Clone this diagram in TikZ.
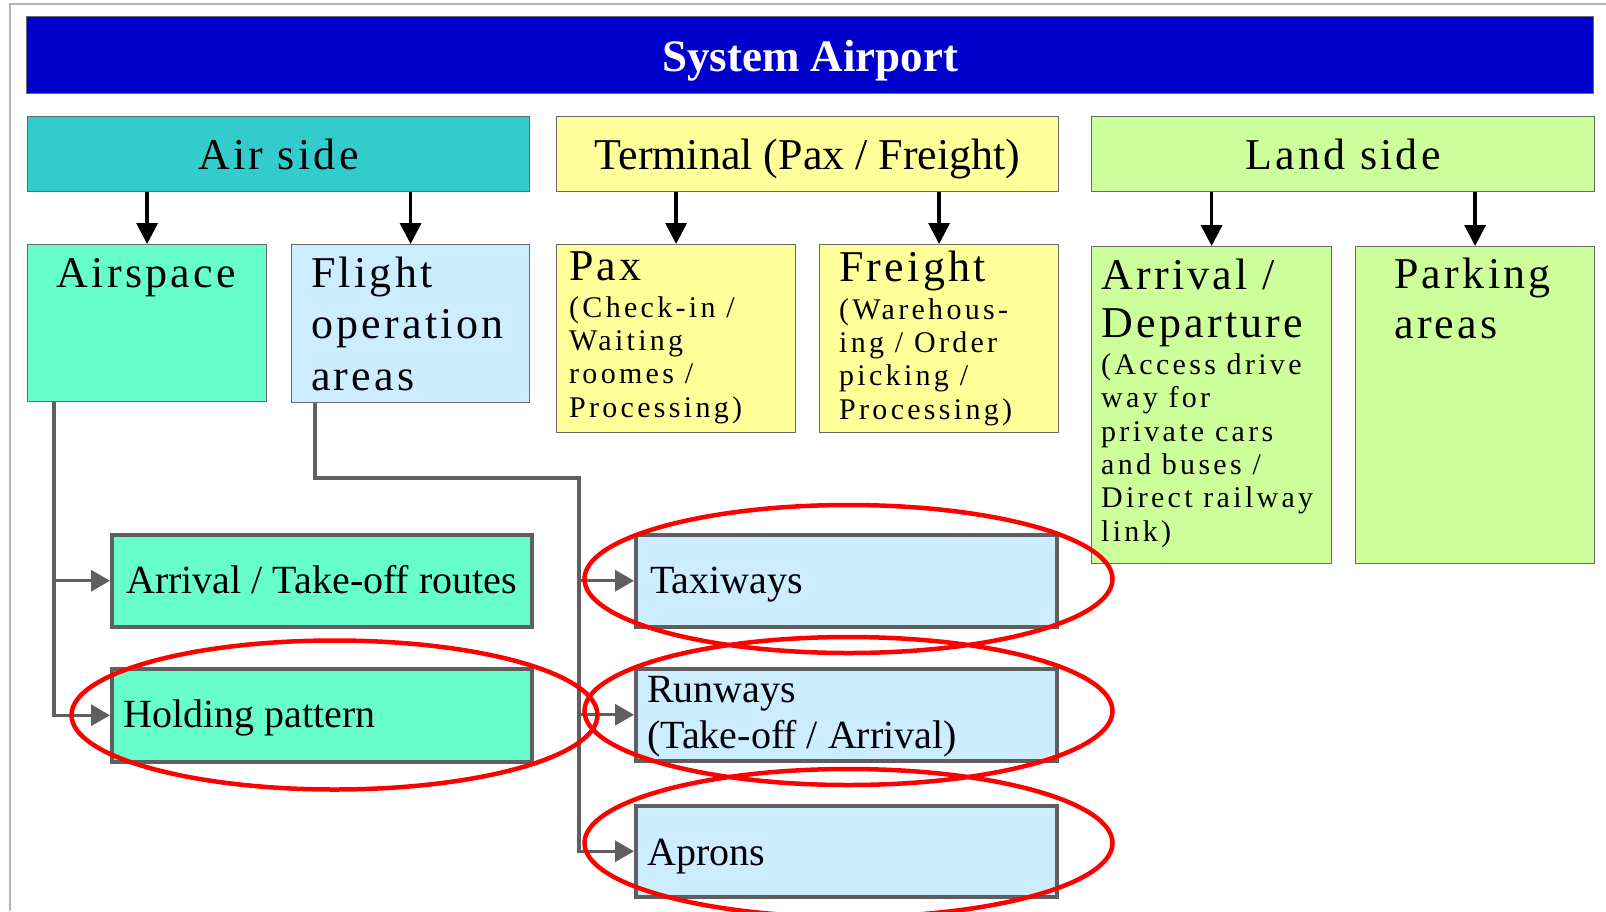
\documentclass[tikz,border=0pt]{standalone}
\usepackage{fontspec}
\setmainfont{Liberation Serif}
\newfontfamily\widespaced[LetterSpace=7.5]{Liberation Serif}
\newfontfamily\smallspaced[LetterSpace=11]{Liberation Serif}
\usetikzlibrary{arrows.meta}

\definecolor{titleblue}{HTML}{0000CC}
\definecolor{airteal}{HTML}{33CCCC}
\definecolor{termyellow}{HTML}{FFFF99}
\definecolor{landgreen}{HTML}{CCFF99}
\definecolor{airmint}{HTML}{66FFCC}
\definecolor{opsblue}{HTML}{CCECFF}
\definecolor{edgegray}{HTML}{6A6A6A}
\definecolor{thickgray}{HTML}{5F5F5F}
\definecolor{framegray}{HTML}{B4B4B4}
\definecolor{ringred}{HTML}{FF0000}

\tikzset{
  box/.style={anchor=north west, inner sep=0pt, draw=edgegray, line width=1.2pt},
  areabox/.style={anchor=north west, inner sep=0pt, draw=thickgray, line width=3.5pt},
  tierhead/.style={text height=30pt, text depth=0pt},
  bigtext/.style={inner sep=0pt, align=left, font=\widespaced\fontsize{44}{51.5}\selectfont},
  smalltext/.style={inner sep=0pt, align=left, font=\smallspaced\fontsize{30}{33.3}\selectfont},
  areatext/.style={inner sep=0pt, anchor=base west, align=left, font=\fontsize{40}{46}\selectfont},
  godown/.style={draw=black, line width=3.5pt, -{Triangle[length=21pt, width=21pt]}},
  feed/.style={draw=thickgray, line width=3.3pt, -{Triangle[length=19pt, width=21pt]}},
  redring/.style={draw=ringred, line width=4.5pt}
}

\begin{document}
\begin{tikzpicture}[x=1pt,y=-1pt]
\useasboundingbox (0,0) rectangle (1606,911);

% Drawing page frame
\draw [framegray, line width=1.2pt] (10,911) -- (10,4) -- (1606,4);

% Drawing title bar
\node [box, fill=titleblue, minimum width=1567pt, minimum height=77pt,
       text height=33pt, text depth=0pt, text=white,
       font=\fontsize{45}{50}\selectfont\bfseries] (title) at (26,16) {System Airport};

% Drawing the three sides
\node [box, tierhead, fill=airteal, minimum width=502pt, minimum height=75pt,
       font=\widespaced\fontsize{44}{51}\selectfont] (airside) at (27,116) {Air side};
\node [box, tierhead, fill=termyellow, minimum width=502pt, minimum height=75pt,
       font=\fontsize{44}{51}\selectfont] (terminal) at (556,116) {Terminal (Pax / Freight)};
\node [box, tierhead, fill=landgreen, minimum width=503pt, minimum height=75pt,
       font=\widespaced\fontsize{44}{51}\selectfont] (landside) at (1091,116) {Land side};

% Drawing boxes of the second row
\node [box, fill=airmint, minimum width=239pt, minimum height=157pt] (airspace) at (27,244) {};
\node [box, fill=opsblue, minimum width=238pt, minimum height=158pt] (flightops) at (291,244) {};
\node [box, fill=termyellow, minimum width=239pt, minimum height=188pt] (pax) at (556,244) {};
\node [box, fill=termyellow, minimum width=239pt, minimum height=188pt] (freight) at (819,244) {};
\node [box, fill=landgreen, minimum width=240pt, minimum height=317pt] (arrdep) at (1091,246) {};
\node [box, fill=landgreen, minimum width=239pt, minimum height=317pt] (parking) at (1355,246) {};

% Texts of the second row (placed at the baseline of their last line)
\node [bigtext, anchor=base] at (146.5,287) {Airspace};
\node [bigtext, anchor=base west] at (311,390) {Flight\\operation\\areas};
\node [bigtext, anchor=base west] at (569,280) {Pax};
\node [smalltext, anchor=base west] at (569,417) {(Check-in /\\Waiting\\roomes /\\Processing)};
\node [bigtext, anchor=base west] at (839,281) {Freight};
\node [smalltext, anchor=base west] at (839,419) {(Warehous-\\ing / Order\\picking /\\Processing)};
\node [bigtext, anchor=base west, font=\widespaced\fontsize{44}{48}\selectfont] at (1101,337) {Arrival /\\Departure};
\node [smalltext, anchor=base west] at (1101,541) {(Access drive\\way for\\private cars\\and buses /\\Direct railway\\link)};
\node [bigtext, anchor=base west, font=\widespaced\fontsize{44}{50}\selectfont] at (1394,338) {Parking\\areas};

% Drawing arrows from the sides
\draw [godown] (airspace.north |- airside.south) -- (airspace.north);
\draw [godown] (flightops.north |- airside.south) -- (flightops.north);
\draw [godown] (pax.north |- terminal.south) -- (pax.north);
\draw [godown] (freight.north |- terminal.south) -- (freight.north);
\draw [godown] (arrdep.north |- landside.south) -- (arrdep.north);
\draw [godown] (parking.north |- landside.south) -- (parking.north);

% Drawing areas of the air side
\node [areabox, fill=airmint, minimum width=420pt, minimum height=92pt] (routes) at (110,533) {};
\node [areabox, fill=airmint, minimum width=420pt, minimum height=93pt] (holding) at (110,667) {};
\node [areabox, fill=opsblue, minimum width=421pt, minimum height=92pt] (taxiways) at (634,533) {};
\node [areabox, fill=opsblue, minimum width=421pt, minimum height=92pt] (runways) at (634,667) {};
\node [areabox, fill=opsblue, minimum width=421pt, minimum height=91pt] (aprons) at (634,804) {};

\node [areatext] at (126,593) {Arrival / Take-off routes};
\node [areatext] at (123,727) {Holding pattern};
\node [areatext] at (650,593) {Taxiways};
\node [areatext] at (647,748) {Runways\\(Take-off / Arrival)};
\node [areatext] at (647,865) {Aprons};

% Drawing connectors from Airspace
\draw [feed] ([xshift=27pt]airspace.south west) |- (routes.west);
\draw [feed] ([xshift=27pt]airspace.south west) |- (holding.west);

% Drawing connectors from Flight operation areas
\coordinate (opsbend) at (579,478);
\draw [feed] ([xshift=24pt]flightops.south west) |- (opsbend) |- (taxiways.west);
\draw [feed] (opsbend) |- (runways.west);
\draw [feed] (opsbend) |- (aprons.west);

% Marking areas by red ellipses
\draw [redring] (334.5,715) ellipse [x radius=263pt, y radius=74.5pt];
\draw [redring] (848.5,579) ellipse [x radius=264pt, y radius=74pt];
\draw [redring] (848.5,711) ellipse [x radius=264pt, y radius=74pt];
\draw [redring] (848.5,843) ellipse [x radius=264pt, y radius=74pt];

\end{tikzpicture}
\end{document}
